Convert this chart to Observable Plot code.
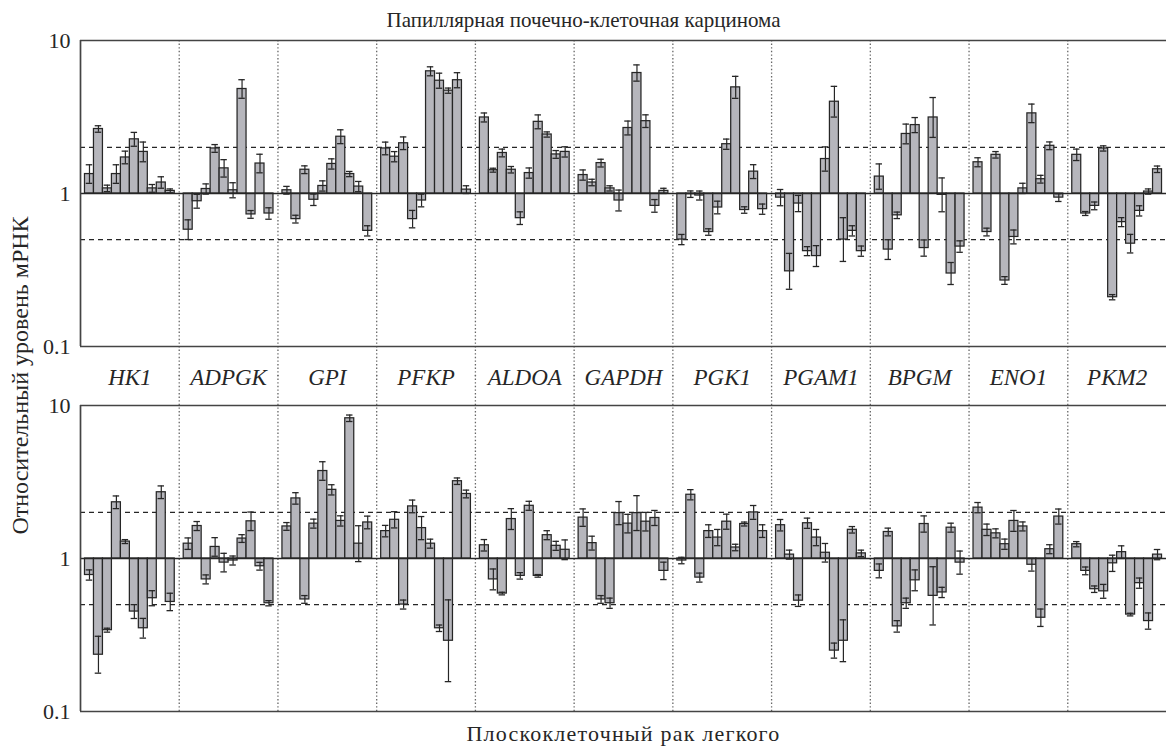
<!DOCTYPE html>
<html>
<head>
<meta charset="utf-8">
<script src="https://cdn.jsdelivr.net/npm/d3@7"></script>
<script src="https://cdn.jsdelivr.net/npm/@observablehq/plot@0.6"></script>
<style>
  body { margin: 0; background: #fff; }
  #chart svg { display: block; }
</style>
</head>
<body>
<div id="chart"></div>
<script>
// Relative mRNA level of glycolysis genes, ten tumour samples per gene (log scale, 1 = normal tissue)
const genes = ["HK1", "ADPGK", "GPI", "PFKP", "ALDOA", "GAPDH", "PGK1", "PGAM1", "BPGM", "ENO1", "PKM2"];

// Papillary renal cell carcinoma: mean values per gene
const renalValues = [
  [1.34, 2.64, 1.08, 1.34, 1.72, 2.26, 1.87, 1.08, 1.18, 1.04],
  [0.58, 0.89, 1.07, 1.97, 1.46, 1.05, 4.82, 0.73, 1.57, 0.74],
  [1.05, 0.68, 1.43, 0.91, 1.12, 1.56, 2.35, 1.34, 1.11, 0.57],
  [1.97, 1.74, 2.13, 0.68, 0.90, 6.29, 5.46, 4.70, 5.50, 1.06],
  [3.14, 1.42, 1.84, 1.43, 0.69, 1.36, 2.94, 2.43, 1.80, 1.87],
  [1.32, 1.18, 1.58, 1.08, 0.90, 2.68, 6.13, 2.97, 0.83, 1.04],
  [0.50, 0.99, 0.97, 0.56, 0.81, 2.10, 4.94, 0.78, 1.39, 0.79],
  [0.94, 0.31, 0.86, 0.42, 0.39, 1.68, 3.98, 0.50, 0.57, 0.42],
  [1.29, 0.43, 0.72, 2.45, 2.80, 0.44, 3.14, 0.98, 0.30, 0.45],
  [1.60, 0.56, 1.79, 0.27, 0.52, 1.08, 3.34, 1.24, 2.05, 0.94],
  [1.79, 0.74, 0.83, 1.97, 0.21, 0.65, 0.47, 0.77, 1.03, 1.44]
];
// Error as a fold factor (bar spans value / f ... value * f)
const renalErrors = [
  [1.15, 1.05, 1.05, 1.15, 1.10, 1.11, 1.16, 1.06, 1.09, 1.03],
  [1.16, 1.11, 1.08, 1.06, 1.14, 1.12, 1.15, 1.06, 1.15, 1.09],
  [1.06, 1.06, 1.06, 1.09, 1.08, 1.08, 1.11, 1.04, 1.08, 1.08],
  [1.10, 1.08, 1.10, 1.14, 1.10, 1.07, 1.12, 1.04, 1.12, 1.06],
  [1.07, 1.03, 1.06, 1.05, 1.10, 1.08, 1.11, 1.04, 1.06, 1.08],
  [1.08, 1.05, 1.06, 1.04, 1.17, 1.11, 1.13, 1.10, 1.10, 1.04],
  [1.08, 1.05, 1.07, 1.05, 1.10, 1.08, 1.18, 1.05, 1.11, 1.08],
  [1.13, 1.31, 1.13, 1.07, 1.17, 1.20, 1.26, 1.39, 1.08, 1.08],
  [1.21, 1.16, 1.05, 1.16, 1.12, 1.13, 1.35, 1.29, 1.18, 1.09],
  [1.07, 1.06, 1.05, 1.06, 1.11, 1.08, 1.15, 1.06, 1.06, 1.06],
  [1.09, 1.03, 1.06, 1.04, 1.04, 1.07, 1.15, 1.08, 1.04, 1.05]
];

// Squamous cell lung cancer: mean values per gene
const lungValues = [
  [0.78, 0.235, 0.34, 2.33, 1.29, 0.45, 0.35, 0.55, 2.71, 0.52],
  [1.25, 1.63, 0.73, 1.19, 0.94, 0.97, 1.35, 1.75, 0.89, 0.51],
  [1.62, 2.47, 0.54, 1.69, 3.73, 2.81, 1.76, 8.25, 1.25, 1.72],
  [1.51, 1.79, 0.50, 2.19, 1.58, 1.25, 0.35, 0.29, 3.20, 2.64],
  [1.22, 0.73, 0.59, 1.81, 0.77, 2.21, 0.77, 1.42, 1.21, 1.14],
  [1.85, 1.26, 0.54, 0.51, 1.98, 1.69, 1.98, 1.74, 1.84, 0.83],
  [0.97, 2.61, 0.75, 1.51, 1.37, 1.74, 1.18, 1.68, 2.00, 1.51],
  [1.65, 1.06, 0.53, 1.70, 1.37, 1.09, 0.25, 0.29, 1.54, 1.08],
  [0.83, 1.49, 0.36, 0.51, 0.72, 1.68, 0.57, 0.60, 1.59, 0.94],
  [2.15, 1.54, 1.46, 1.24, 1.76, 1.62, 0.91, 0.41, 1.15, 1.88],
  [1.24, 0.83, 0.63, 0.61, 0.93, 1.10, 0.43, 0.69, 0.39, 1.06]
];
const lungErrors = [
  [1.08, 1.32, 1.03, 1.10, 1.03, 1.11, 1.16, 1.12, 1.10, 1.14],
  [1.09, 1.07, 1.07, 1.15, 1.15, 1.07, 1.06, 1.15, 1.06, 1.04],
  [1.06, 1.09, 1.06, 1.07, 1.15, 1.08, 1.08, 1.05, 1.31, 1.10],
  [1.09, 1.13, 1.07, 1.10, 1.19, 1.07, 1.05, 1.85, 1.05, 1.06],
  [1.09, 1.17, 1.02, 1.17, 1.05, 1.07, 1.02, 1.07, 1.07, 1.16],
  [1.14, 1.11, 1.06, 1.08, 1.19, 1.15, 1.30, 1.15, 1.12, 1.14],
  [1.05, 1.08, 1.07, 1.10, 1.13, 1.12, 1.05, 1.03, 1.11, 1.10],
  [1.09, 1.07, 1.09, 1.08, 1.13, 1.15, 1.12, 1.37, 1.05, 1.05],
  [1.11, 1.06, 1.09, 1.08, 1.17, 1.13, 1.55, 1.08, 1.07, 1.19],
  [1.08, 1.09, 1.07, 1.08, 1.17, 1.07, 1.10, 1.14, 1.07, 1.12],
  [1.04, 1.06, 1.05, 1.11, 1.13, 1.10, 1.02, 1.08, 1.13, 1.08]
];

const panels = ["renal", "lung"];
const panelTitles = {
  renal: "Папиллярная почечно-клеточная карцинома",
  lung: "Плоскоклеточный рак легкого"
};
const yTicks = [0.1, 1, 10];
const yLabel = "Относительный уровень мРНК";

// Each gene occupies 11 slots on x: ten adjacent bars plus half a slot of air on each side
const slotsPerGene = 11;

function toRows(panel, values, errors) {
  return genes.flatMap((gene, g) => values[g].map((v, i) => {
    const slot = g * slotsPerGene + 0.5 + i;
    const f = errors[g][i];
    return {panel, gene, x1: slot, x2: slot + 1, xc: slot + 0.5, value: v, lo: v / f, hi: v * f};
  }));
}
const bars = [...toRows("renal", renalValues, renalErrors), ...toRows("lung", lungValues, lungErrors)];
const caps = bars.flatMap(d => [{...d, yc: d.lo}, {...d, yc: d.hi}]);
const dividers = panels.flatMap(panel => d3.range(1, genes.length).map(g => ({panel, x: g * slotsPerGene})));
const geneLabels = genes.map((gene, g) => ({panel: "renal", gene, x: g * slotsPerGene + slotsPerGene / 2}));

const serif = "'Liberation Serif', 'Times New Roman', serif";
const ink = "#262626";
const width = 1166, height = 747;
const margin = {top: 40, right: 0, bottom: 36, left: 80};

const chart = Plot.plot({
  width,
  height,
  marginLeft: margin.left,
  marginRight: margin.right,
  marginTop: margin.top,
  marginBottom: margin.bottom,
  style: {fontFamily: serif, fontSize: "22px", background: "#fff", color: ink},
  fy: {domain: panels, paddingInner: 0.1616, paddingOuter: 0, round: false, axis: null},
  x: {domain: [0, genes.length * slotsPerGene], axis: null},
  y: {type: "log", domain: [0.1, 10], ticks: yTicks, tickFormat: d => `${d}`, tickSize: 0, tickPadding: 10, label: null},
  marks: [
    // dotted separators between genes, running through the gap between panels
    Plot.ruleX(dividers.filter(d => d.panel === "renal"), {x: "x", fy: "panel", stroke: "#666", strokeWidth: 1.3, strokeDasharray: "1.4,2.2", insetBottom: -30}),
    Plot.ruleX(dividers.filter(d => d.panel === "lung"), {x: "x", fy: "panel", stroke: "#666", strokeWidth: 1.3, strokeDasharray: "1.4,2.2", insetTop: -30}),
    // two-fold thresholds
    Plot.ruleY([2, 0.5], {stroke: ink, strokeWidth: 1.3, strokeDasharray: "5,4"}),
    Plot.rect(bars, {x1: "x1", x2: "x2", y1: 1, y2: "value", fy: "panel", fill: "#b6b6bc", stroke: ink, strokeWidth: 1.25}),
    Plot.ruleY([1], {stroke: ink, strokeWidth: 1.7}),
    // error bars with caps
    Plot.ruleX(bars, {x: "xc", y1: "lo", y2: "hi", fy: "panel", stroke: ink, strokeWidth: 1.2}),
    Plot.ruleY(caps, {y: "yc", x1: d => d.x1 + 0.14, x2: d => d.x2 - 0.14, fy: "panel", stroke: ink, strokeWidth: 1.3}),
    // panel frame: left axis, top and bottom lines
    Plot.ruleY([0.1, 10], {stroke: "#444", strokeWidth: 1.7}),
    Plot.ruleX([0], {stroke: "#444", strokeWidth: 1.7}),
    // gene names between the two panels
    Plot.text(geneLabels, {x: "x", fy: "panel", text: "gene", frameAnchor: "bottom", dy: 31, lineAnchor: "middle", fontSize: 23, fontStyle: "italic", fill: ink}),
    // upper title is centred on the whole figure, lower caption on the plotting area
    Plot.text([{panel: "renal"}], {fy: "panel", text: d => panelTitles[d.panel], frameAnchor: "top", dx: (margin.right - margin.left) / 2, dy: -20, lineAnchor: "middle", fontSize: 21, fill: ink}),
    Plot.text([{panel: "lung"}], {fy: "panel", text: d => panelTitles[d.panel], frameAnchor: "bottom", dy: 22, lineAnchor: "middle", fontSize: 22, fill: ink})
  ]
});

// the lower caption is set slightly letter-spaced
d3.select(chart).selectAll("text")
  .filter(function() { return this.textContent === panelTitles.lung; })
  .attr("letter-spacing", 1.2);

// shared y-axis title spanning both panels
d3.select(chart).append("text")
  .attr("transform", `translate(20, ${(margin.top + height - margin.bottom) / 2}) rotate(-90)`)
  .attr("text-anchor", "middle")
  .attr("dy", "0.35em")
  .attr("font-size", 24)
  .attr("fill", ink)
  .text(yLabel);

document.getElementById("chart").append(chart);
</script>
</body>
</html>
